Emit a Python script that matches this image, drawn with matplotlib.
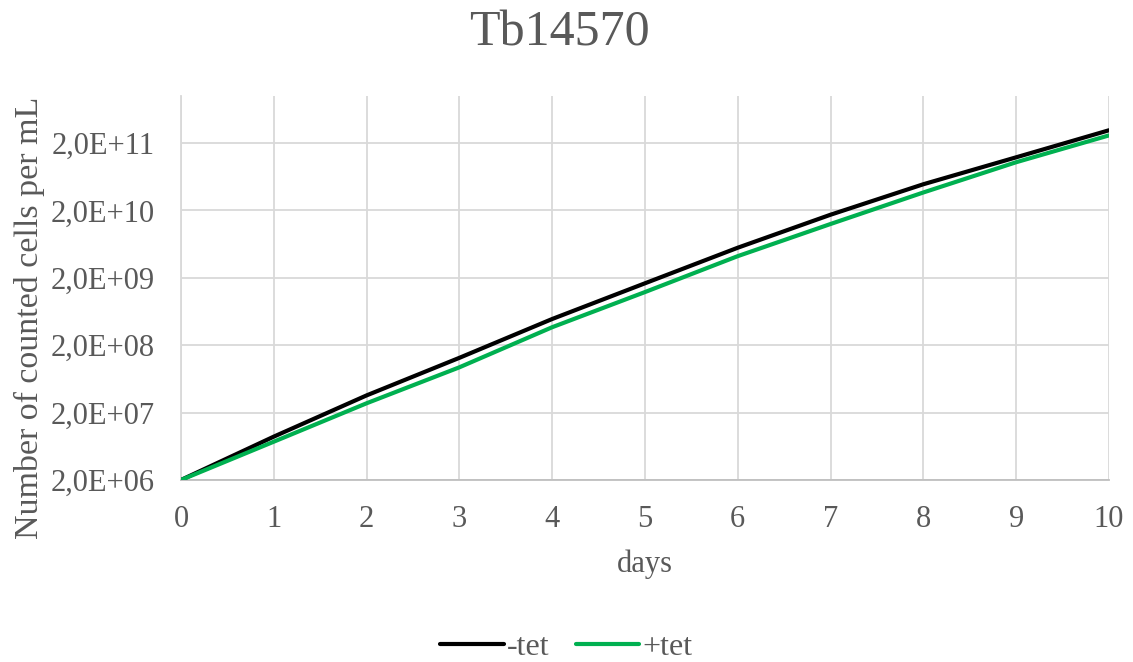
import matplotlib
matplotlib.use("Agg")
import matplotlib.pyplot as plt
from matplotlib.ticker import FixedLocator, NullLocator

plt.rcParams['font.family'] = ['Liberation Serif', 'DejaVu Serif']

# values (cells per mL)
days = [0, 1, 2, 3, 4, 5, 6, 7, 8, 9, 10]
minus_tet = [2.0e6, 8.8e6, 3.6e7, 1.3e8, 4.9e8, 1.66e9, 5.6e9, 1.73e10, 4.9e10, 1.23e11, 3.1e11]
plus_tet = [2.0e6, 7.4e6, 2.75e7, 9.4e7, 3.7e8, 1.23e9, 4.2e9, 1.26e10, 3.7e10, 1.04e11, 2.6e11]
ytick_vals = [2e6, 2e7, 2e8, 2e9, 2e10, 2e11]
ytick_labels = ['2,0E+06', '2,0E+07', '2,0E+08', '2,0E+09', '2,0E+10', '2,0E+11']

txt = '#595959'
grid = '#D9D9D9'

fig = plt.figure(figsize=(11.33, 6.62), dpi=100)
ax = fig.add_axes([0.1598, 0.275, 0.819, 0.580])

ax.plot(days, minus_tet, color='black', lw=3.0, label='-tet', solid_capstyle='round', zorder=3)
ax.plot(days, plus_tet, color='#00B050', lw=3.0, label='+tet', solid_capstyle='round', zorder=3)

ax.set_yscale('log')
ax.set_ylim(2e6, 1e12)
ax.set_xlim(0, 10)
ax.yaxis.set_major_locator(FixedLocator(ytick_vals))
ax.yaxis.set_minor_locator(NullLocator())
ax.set_yticklabels(ytick_labels)
ax.set_xticks(days)

ax.grid(True, color=grid, lw=1.3)
ax.set_axisbelow(True)
for s in ['top', 'right']:
    ax.spines[s].set_visible(False)
ax.spines['left'].set_color(grid)
ax.spines['left'].set_linewidth(1.3)
ax.spines['bottom'].set_color('#BFBFBF')
ax.spines['bottom'].set_linewidth(1.3)

ax.tick_params(axis='both', length=0, labelsize=22, colors=txt)
ax.tick_params(axis='y', pad=19)
ax.tick_params(axis='x', pad=18)

ax.set_xlabel('days', fontsize=22, color=txt, labelpad=11)
ax.set_ylabel('Number of counted cells per mL', fontsize=24.5, color=txt)
ax.yaxis.set_label_coords(-0.147, 0.422)
fig.suptitle('Tb14570', fontsize=36, color=txt, y=0.985, x=0.494)

leg = fig.legend(loc='center', bbox_to_anchor=(0.5, 0.022), ncol=2, frameon=False,
                 fontsize=23, handlelength=2.0, handletextpad=0.1, columnspacing=0.8)
for t in leg.get_texts():
    t.set_color(txt)

fig.savefig('out.png', dpi=100)
